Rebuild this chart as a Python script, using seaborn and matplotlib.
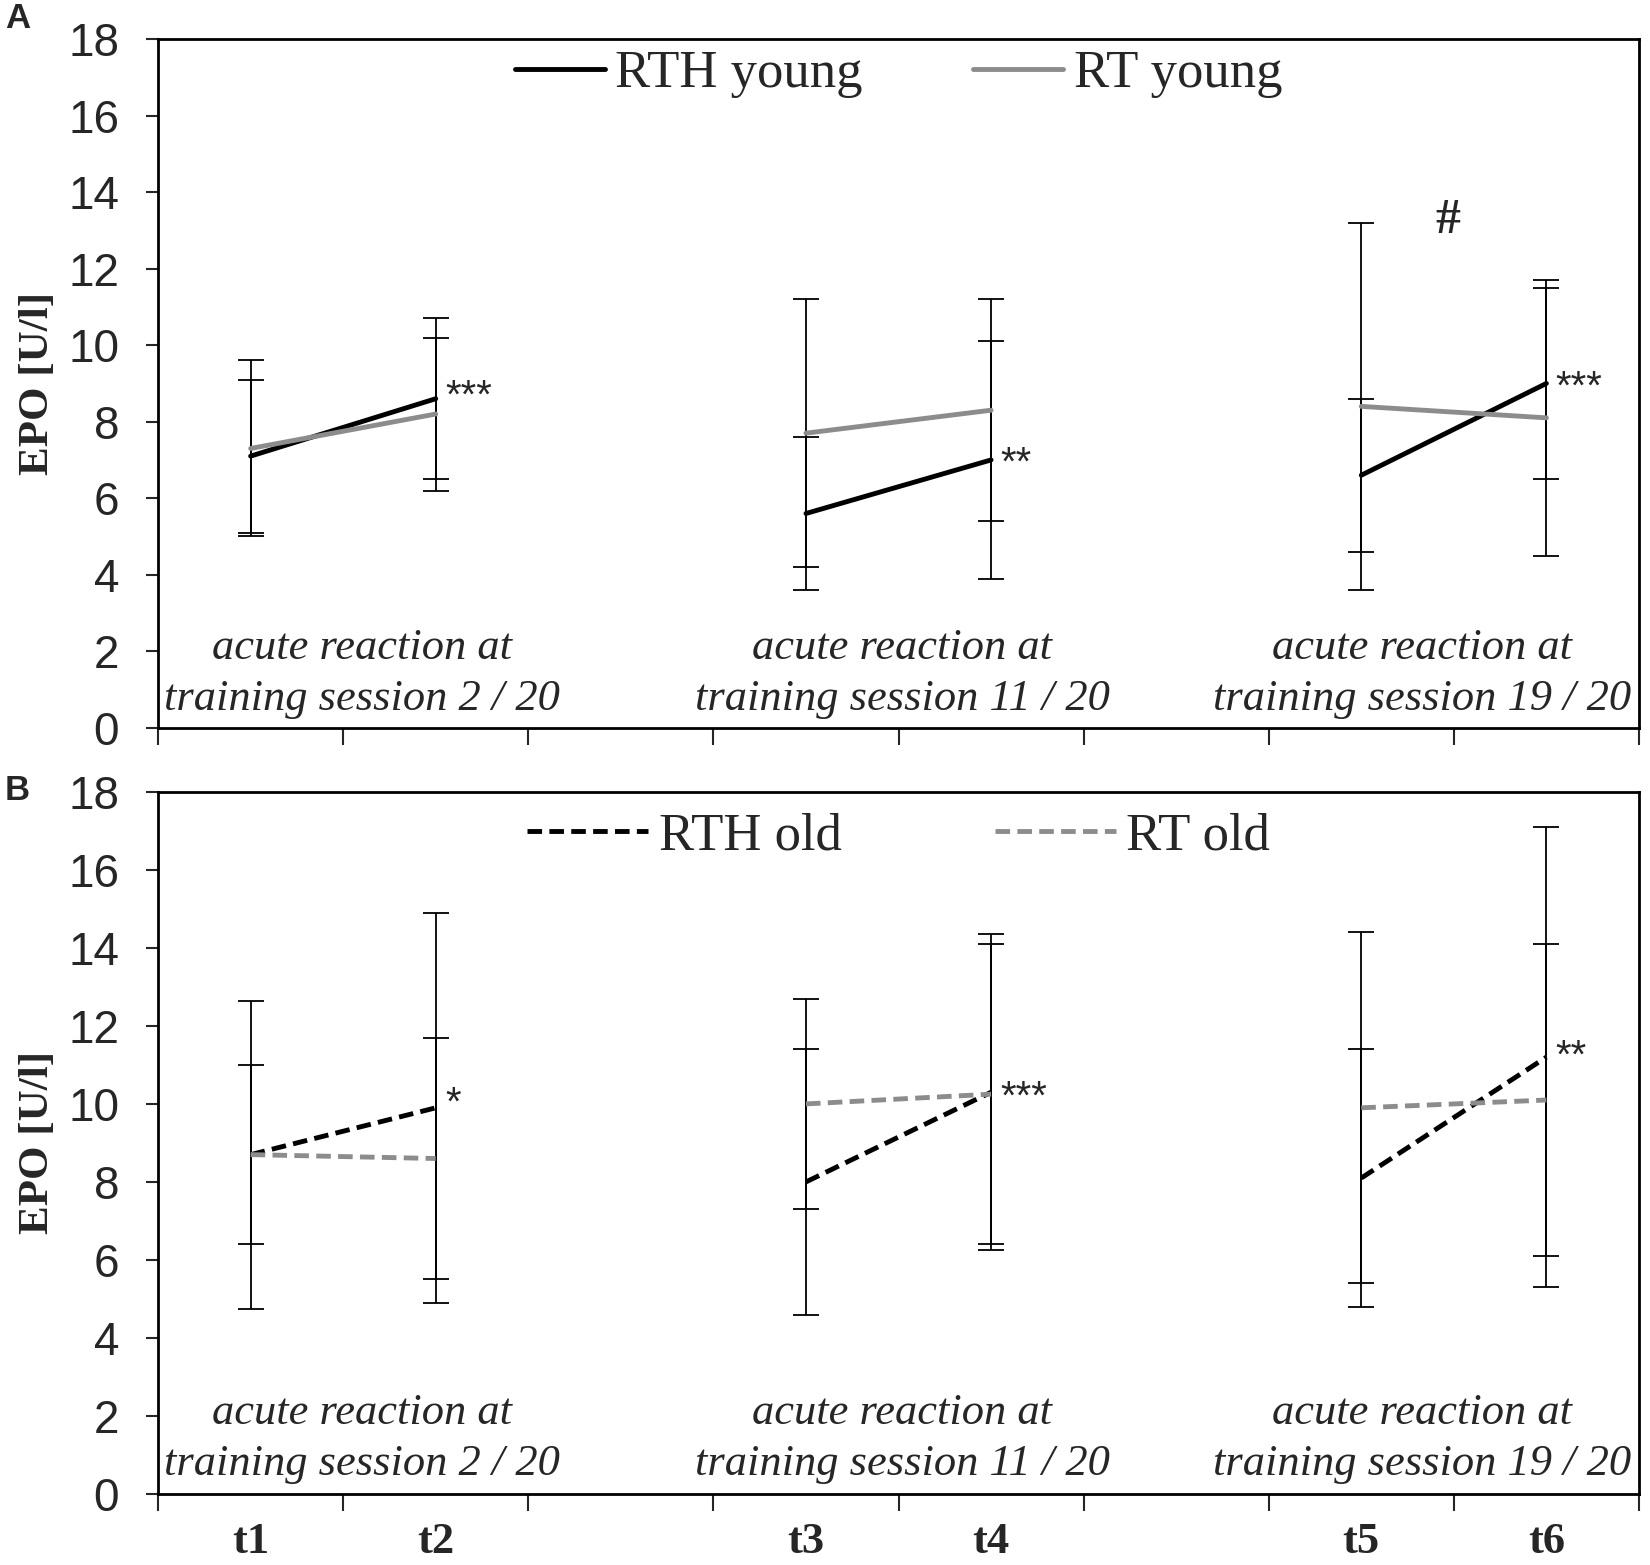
import numpy as np
import pandas as pd
import matplotlib
matplotlib.use("Agg")
from matplotlib import pyplot as plt
from matplotlib.lines import Line2D
import seaborn as sns

# x slots: two time points per training session, one empty slot between sessions
slots = ["t1", "t2", "", "t3", "t4", "", "t5", "t6"]
times = ["t1", "t2", "t3", "t4", "t5", "t6"]
sessions = ["2 / 20", "2 / 20", "11 / 20", "11 / 20", "19 / 20", "19 / 20"]
session_names = ["2 / 20", "11 / 20", "19 / 20"]

# panel A - young
rth_young = [7.1, 8.6, 5.6, 7.0, 6.6, 9.0]
rth_young_sd = [2.0, 2.1, 2.0, 3.1, 2.0, 2.5]
rt_young = [7.3, 8.2, 7.7, 8.3, 8.4, 8.1]
rt_young_sd = [2.3, 2.0, 3.5, 2.9, 4.8, 3.6]

# panel B - old
rth_old = [8.7, 9.9, 8.0, 10.3, 8.1, 11.2]
rth_old_sd = [2.3, 5.0, 3.4, 4.05, 3.3, 5.9]
rt_old = [8.7, 8.6, 10.0, 10.25, 9.9, 10.1]
rt_old_sd = [3.95, 3.1, 2.7, 3.85, 4.5, 4.0]

# significance marks (time point, height, text)
sig_young = [("t2", 8.65, "***"), ("t4", 6.9, "**"), ("t6", 8.9, "***")]
sig_old = [("t2", 10.0, "*"), ("t4", 10.15, "***"), ("t6", 11.2, "**")]

sns.set_style("ticks")
plt.rcParams["font.family"] = ["Liberation Sans", "DejaVu Sans"]
SERIF = ["Liberation Serif", "DejaVu Serif"]

BLACK = "#000000"
GREY = "#8c8c8c"


def make_df(a, a_sd, b, b_sd, name_a, name_b):
    rows = []
    for name, vals, sds in [(name_a, a, a_sd), (name_b, b, b_sd)]:
        for t, s, v, sd in zip(times, sessions, vals, sds):
            rows.append({"time": t, "slot": slots.index(t), "session": s,
                         "group": name, "epo": v, "sd": sd})
    return pd.DataFrame(rows)


fig = plt.figure(figsize=(16.5, 15.65), dpi=100)
axA = fig.add_axes([0.0958, 0.535, 0.8975, 0.44])
axB = fig.add_axes([0.0958, 0.0454, 0.8975, 0.4486])

panels = [
    (axA, make_df(rth_young, rth_young_sd, rt_young, rt_young_sd, "RTH young", "RT young"),
     "RTH young", "RT young", "", sig_young, 1.7, 2.1, 0.949),
    (axB, make_df(rth_old, rth_old_sd, rt_old, rt_old_sd, "RTH old", "RT old"),
     "RTH old", "RT old", (3.0, 1.5), sig_old, 2.3, 2.9, 0.937),
]

for ax, df, g1, g2, dash, sigs, hlen, colsp, legy in panels:
    # error bars behind the lines
    for g in [g1, g2]:
        d = df[df["group"] == g]
        ax.errorbar(d["slot"], d["epo"], yerr=d["sd"], fmt="none", ecolor="black",
                    elinewidth=1.3, capsize=9.5, capthick=1.3, zorder=1)
    sns.lineplot(data=df, x="slot", y="epo", hue="group", style="group",
                 units="session", estimator=None, palette={g1: BLACK, g2: GREY},
                 dashes={g1: dash, g2: dash}, linewidth=3.5, legend=False,
                 ax=ax, zorder=3)
    for line in ax.get_lines():
        line.set_solid_capstyle("round")

    ax.set_xlim(-0.5, 7.5)
    ax.set_ylim(0, 18)
    ax.set_yticks(np.arange(0, 19, 2))
    ax.tick_params(axis="y", labelsize=33, direction="out", length=9, width=1.5, pad=19)
    ax.set_xticks([slots.index(t) for t in times])
    ax.set_xticks(np.arange(-0.5, 8, 1), minor=True)
    ax.tick_params(axis="x", which="major", length=0, pad=20)
    ax.tick_params(axis="x", which="minor", direction="out", length=12, width=1.5)
    ax.set_xlabel("")
    ax.set_ylabel("EPO [U/l]", fontsize=31, fontweight="bold", family=SERIF, labelpad=8)
    for sp in ax.spines.values():
        sp.set_visible(True)
        sp.set_linewidth(2.0)
        sp.set_color("black")

    # session captions
    for k, s in enumerate(session_names):
        xs = [slots.index(t) for t, ss in zip(times, sessions) if ss == s]
        xc = np.mean(xs) + [0.1, 0.02, -0.17][k]
        ax.text(xc, 1.42, "acute reaction at\ntraining session " + s, ha="center",
                va="center", fontsize=32, style="italic", family=SERIF, linespacing=1.35)

    for t, yv, txt in sigs:
        ax.text(slots.index(t) + 0.05, yv, txt, ha="left", va="center", fontsize=29)

    handles = [Line2D([], [], color=BLACK, lw=3.5, ls=(0, dash) if dash else "-"),
               Line2D([], [], color=GREY, lw=3.5, ls=(0, dash) if dash else "-")]
    ax.legend(handles, [g1, g2], loc="center", bbox_to_anchor=(0.5, legy), ncol=2,
              frameon=False, prop={"family": SERIF, "size": 38}, handlelength=hlen,
              handletextpad=0.2, columnspacing=colsp)

# hash between t5 and t6 in panel A
axA.text((slots.index("t5") + slots.index("t6")) / 2 - 0.03, 13.25, "#", ha="center",
         va="center", fontsize=36, fontweight="bold", family=SERIF)

axA.set_xticklabels([])
axB.set_xticklabels(times, fontsize=32, fontweight="bold", family=SERIF)

fig.text(0.003, 0.988, "A", fontsize=25, fontweight="bold", va="center")
fig.text(0.003, 0.495, "B", fontsize=25, fontweight="bold", va="center")

fig.savefig("out.png", dpi=100)
